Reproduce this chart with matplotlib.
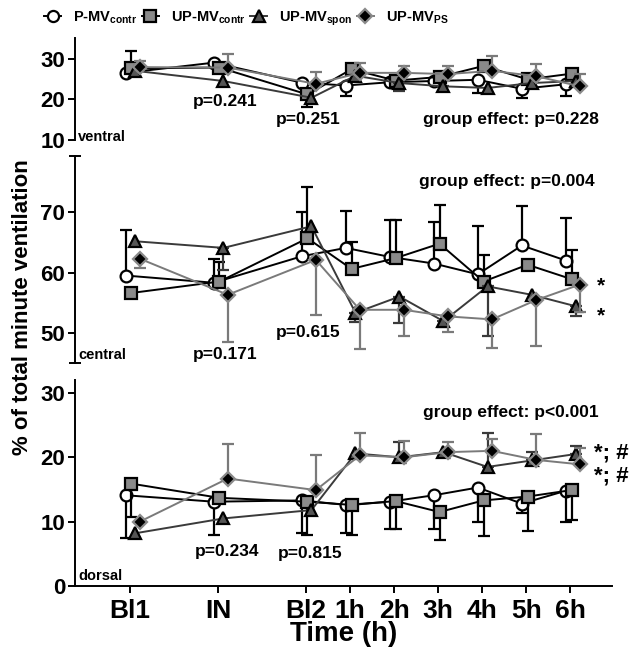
import matplotlib
matplotlib.use("Agg")
import matplotlib.pyplot as plt
from matplotlib import font_manager
from matplotlib.lines import Line2D
import numpy as np

# ---------------------------------------------------------------------------
# data: mean values, and signed error bar lengths
# (+ = bar drawn upward, - = bar drawn downward, 0 = no visible bar)
# ---------------------------------------------------------------------------
time_labels = ["Bl1", "IN", "Bl2", "1h", "2h", "3h", "4h", "5h", "6h"]
time_pos = np.array([0, 2, 4, 5, 6, 7, 8, 9, 10])

groups = ["P-MV$_{\\mathbf{contr}}$", "UP-MV$_{\\mathbf{contr}}$",
          "UP-MV$_{\\mathbf{spon}}$", "UP-MV$_{\\mathbf{PS}}$"]

# ventral
ventral_pmv = [26.5, 29.0, 24.1, 23.4, 24.2, 24.5, 24.8, 22.6, 23.7]
ventral_pmv_err = [0, 0, 0, -2.6, 0, 0, -3.2, -2.2, -2.9]
ventral_upmv = [27.6, 27.8, 21.2, 27.4, 24.6, 25.5, 28.2, 24.9, 26.3]
ventral_upmv_err = [4.3, 0, -3.0, 0, 0, 0, 0, 0, 0]
ventral_spon = [27.0, 24.5, 20.4, 25.8, 24.0, 23.2, 22.8, 24.0, 24.5]
ventral_spon_err = [0, 0, 0, 0, -2.0, -1.2, 0, 0, 0]
ventral_ps = [27.9, 27.8, 23.8, 26.5, 26.5, 26.2, 27.0, 25.7, 23.2]
ventral_ps_err = [1.6, 3.3, 3.0, 2.5, 1.7, 2.0, 3.6, 2.9, 2.9]

# central
central_pmv = [59.5, 58.3, 62.7, 64.1, 62.6, 61.5, 59.7, 64.5, 62.0]
central_pmv_err = [7.6, 4.0, 7.4, 6.1, 6.2, 6.9, 8.0, 6.5, 7.0]
central_upmv = [56.6, 58.5, 65.7, 60.6, 62.4, 64.8, 58.5, 61.3, 58.9]
central_upmv_err = [0, 3.2, 8.5, 4.4, 6.3, 6.4, 4.5, 0, 4.9]
central_spon = [65.2, 64.1, 67.7, 53.3, 56.0, 51.9, 57.7, 56.3, 54.4]
central_spon_err = [0, -3.6, 0, -1.6, -4.4, -1.0, -8.3, 0, -1.7]
central_ps = [62.3, 56.3, 62.1, 53.8, 53.8, 52.7, 52.2, 55.4, 58.0]
central_ps_err = [-1.6, -7.8, -9.1, -6.5, -4.4, -2.6, -4.7, -7.7, -4.6]

# dorsal
dorsal_pmv = [14.1, 13.1, 13.3, 12.6, 13.1, 14.1, 15.3, 12.8, 14.8]
dorsal_pmv_err = [-6.7, -5.2, -5.0, -4.4, -4.2, -5.2, -5.3, -1.5, -4.8]
dorsal_upmv = [15.9, 13.7, 13.1, 12.6, 13.2, 11.5, 13.3, 13.9, 14.9]
dorsal_upmv_err = [-5.2, 0, -5.2, -4.6, -4.3, -4.4, -5.5, -5.3, -4.7]
dorsal_spon = [8.2, 10.5, 11.8, 20.6, 20.0, 20.8, 18.5, 19.5, 20.5]
dorsal_spon_err = [0, 0, 0, 0, 2.4, 0, 5.3, 1.3, 1.3]
dorsal_ps = [10.0, 16.7, 14.9, 20.3, 20.0, 20.8, 21.0, 19.6, 18.9]
dorsal_ps_err = [0, 5.4, 5.5, 3.4, 2.6, 1.6, 1.8, 4.0, 2.6]

# ---------------------------------------------------------------------------
# fonts / styles
# ---------------------------------------------------------------------------
names = {f.name for f in font_manager.fontManager.ttflist}
fam = "Liberation Sans" if "Liberation Sans" in names else "DejaVu Sans"
plt.rcParams["font.family"] = [fam, "DejaVu Sans"]
plt.rcParams["font.weight"] = "bold"
plt.rcParams["axes.labelweight"] = "bold"
plt.rcParams["mathtext.fontset"] = "custom"
plt.rcParams["mathtext.rm"] = fam + ":bold"
plt.rcParams["mathtext.bf"] = fam + ":bold"

styles = [
    dict(marker="o", mfc="white", mec="black", color="black", ecol="black", ms=8.5, dx=-0.1),
    dict(marker="s", mfc="#8a8a8a", mec="black", color="black", ecol="black", ms=8.5, dx=0.03),
    dict(marker="^", mfc="#555555", mec="black", color="#3a3a3a", ecol="#3a3a3a", ms=9, dx=0.12),
    dict(marker="D", mfc="black", mec="#8a8a8a", color="#7a7a7a", ecol="#7a7a7a", ms=7.5, dx=0.22),
]

ANN = 12.5   # annotation font size
XLIM = (-1.25, 10.95)


def draw_panel(ax, series, errs):
    for k, (y, e) in enumerate(zip(series, errs)):
        st = styles[k]
        x = time_pos + st["dx"]
        y = np.asarray(y, float)
        e = np.asarray(e, float)
        lo = np.where(e < 0, -e, 0)
        up = np.where(e > 0, e, 0)
        m = e != 0
        ax.errorbar(x[m], y[m], yerr=[lo[m], up[m]], fmt="none",
                    ecolor=st["ecol"], elinewidth=1.6, capsize=4, capthick=1.6,
                    zorder=2 + k * 2)
        ax.plot(x, y, color=st["color"], lw=1.4, marker=st["marker"],
                ms=st["ms"], mfc=st["mfc"], mec=st["mec"], mew=1.6,
                zorder=3 + k * 2)


def style_axis(ax, ylim, yticks, bottom=False):
    ax.set_xlim(*XLIM)
    ax.set_ylim(*ylim)
    ax.set_yticks(yticks)
    ax.tick_params(axis="y", direction="out", length=5, width=1.4, labelsize=16, pad=2)
    for s in ["top", "right"]:
        ax.spines[s].set_visible(False)
    ax.spines["left"].set_linewidth(1.4)
    if bottom:
        ax.spines["bottom"].set_linewidth(1.4)
        ax.set_xticks(time_pos)
        ax.set_xticklabels(time_labels)
        ax.tick_params(axis="x", direction="out", length=5, width=1.4, labelsize=19, pad=4)
    else:
        ax.spines["bottom"].set_visible(False)
        ax.set_xticks([])


fig = plt.figure(figsize=(6.31, 6.55), dpi=100)
L, W = 0.119, 0.851
ax_v = fig.add_axes([L, 0.786, W, 0.1557])
ax_c = fig.add_axes([L, 0.4463, W, 0.3156])
ax_d = fig.add_axes([L, 0.1053, W, 0.3145])

# ventral
draw_panel(ax_v, [ventral_pmv, ventral_upmv, ventral_spon, ventral_ps],
           [ventral_pmv_err, ventral_upmv_err, ventral_spon_err, ventral_ps_err])
style_axis(ax_v, (10, 35), [10, 20, 30])
ax_v.text(-1.18, 10.8, "ventral", fontsize=10.5, ha="left", va="center")
ax_v.text(2.15, 19.5, "p=0.241", fontsize=ANN, ha="center", va="center")
ax_v.text(4.05, 15.0, "p=0.251", fontsize=ANN, ha="center", va="center")
ax_v.text(10.65, 15.0, "group effect: p=0.228", fontsize=ANN, ha="right", va="center")

# central
draw_panel(ax_c, [central_pmv, central_upmv, central_spon, central_ps],
           [central_pmv_err, central_upmv_err, central_spon_err, central_ps_err])
style_axis(ax_c, (45, 79.4), [50, 60, 70])
ax_c.set_yticks([45, 79.4], minor=True)
ax_c.tick_params(axis="y", which="minor", direction="inout", length=8, width=1.4)
ax_c.text(-1.18, 46.3, "central", fontsize=10.5, ha="left", va="center")
ax_c.text(2.15, 46.3, "p=0.171", fontsize=ANN, ha="center", va="center")
ax_c.text(4.05, 50.0, "p=0.615", fontsize=ANN, ha="center", va="center")
ax_c.text(10.55, 75.2, "group effect: p=0.004", fontsize=ANN, ha="right", va="center")
ax_c.text(10.6, 57.8, "*", fontsize=15, ha="left", va="center")
ax_c.text(10.6, 52.8, "*", fontsize=15, ha="left", va="center")

# dorsal
draw_panel(ax_d, [dorsal_pmv, dorsal_upmv, dorsal_spon, dorsal_ps],
           [dorsal_pmv_err, dorsal_upmv_err, dorsal_spon_err, dorsal_ps_err])
style_axis(ax_d, (0, 32), [0, 10, 20, 30], bottom=True)
ax_d.set_xlabel("Time (h)", fontsize=20, labelpad=-1)
ax_d.text(-1.18, 1.5, "dorsal", fontsize=10.5, ha="left", va="center")
ax_d.text(2.2, 5.3, "p=0.234", fontsize=ANN, ha="center", va="center")
ax_d.text(4.1, 5.0, "p=0.815", fontsize=ANN, ha="center", va="center")
ax_d.text(10.65, 27.0, "group effect: p<0.001", fontsize=ANN, ha="right", va="center")
ax_d.text(10.55, 20.6, "*; #", fontsize=16, ha="left", va="center")
ax_d.text(10.55, 17.1, "*; #", fontsize=16, ha="left", va="center")

fig.text(0.036, 0.531, "% of total minute ventilation", rotation=90,
         fontsize=16, ha="center", va="center")

handles = [Line2D([], [], color=st["color"], lw=1.4, marker=st["marker"], ms=st["ms"] - 0.5,
                  mfc=st["mfc"], mec=st["mec"], mew=1.6) for st in styles]
fig.legend(handles, groups, loc="center", bbox_to_anchor=(0.39, 0.972), ncol=4,
           frameon=False, fontsize=10.5, handlelength=1.2, handletextpad=0.8,
           columnspacing=0.3, borderaxespad=0)

fig.savefig("out.png", dpi=100)
